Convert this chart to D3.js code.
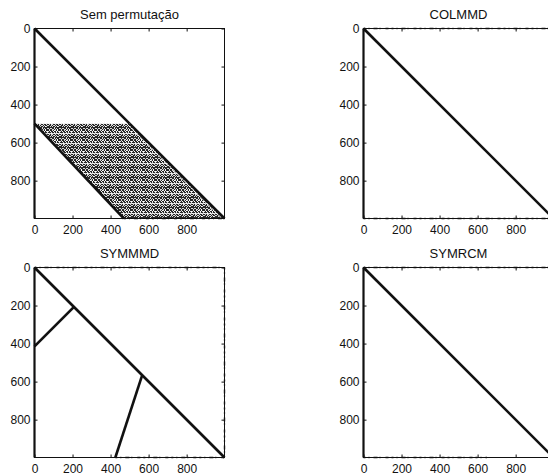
<!DOCTYPE html>
<html>
<head>
<meta charset="utf-8">
<script src="https://cdn.jsdelivr.net/npm/d3@7"></script>
<style>
  body { margin: 0; background: #fff; }
  text { font-family: "Liberation Sans", Arial, sans-serif; fill: #111; }
</style>
</head>
<body>
<script>
// matrix size (axis limit) and ticks
const N = 999;
const ticks = [0, 200, 400, 600, 800];
const titles = ['Sem permutação', 'COLMMD', 'SYMMMD', 'SYMRCM'];

// runs of nonzeros, [col0, row0, col1, row1]
const semRuns = [[0, 0, 500, 500], [500, 500, 999, 999], [0, 500, 470, 999]];
const colmmdRuns = [[0, 0, 999, 999]];
const symmmdRuns = [[0, 0, 999, 999], [0, 415, 205, 210], [425, 999, 565, 570]];
const symrcmRuns = [[0, 0, 999, 999]];

// dense band of the unpermuted matrix, [col, row]
const semBand = [[0, 500], [500, 500], [999, 999], [470, 999]];

// sparse nonzeros along the border rows / cols, [col0, row0, col1, row1]
const semEdges = [[0, 0, 0, 999], [470, 999, 999, 999]];
const colmmdEdges = [[0, 0, 0, 999], [0, 0, 999, 0], [0, 999, 999, 999]];
const symmmdEdges = [[0, 0, 0, 999], [0, 0, 999, 0], [425, 999, 999, 999], [999, 0, 999, 999]];
const symrcmEdges = [[0, 0, 0, 999], [0, 0, 999, 0], [0, 999, 650, 999]];

const runs = [semRuns, colmmdRuns, symmmdRuns, symrcmRuns];
const edges = [semEdges, colmmdEdges, symmmdEdges, symrcmEdges];

// 图形布局
const W = 548, H = 476;
const size = 190;
const lefts = [34.5, 363.5];
const tops = [28.5, 267.5];

const svg = d3.select('body').append('svg')
  .attr('width', W)
  .attr('height', H);

// speckle texture for the dense band
const bits = [
  '101101001011',
  '010110110100',
  '111011010110',
  '000000000000',
  '101001101101',
  '011010010110',
  '110101101001',
  '111111011111',
  '010011010110',
  '101100101011'
];
const pat = svg.append('defs').append('pattern')
  .attr('id', 'speckle')
  .attr('patternUnits', 'userSpaceOnUse')
  .attr('width', bits[0].length)
  .attr('height', bits.length);
pat.append('rect').attr('width', bits[0].length).attr('height', bits.length).attr('fill', '#d8d8d8');
bits.forEach((row, j) => {
  row.split('').forEach((b, i) => {
    if (b === '1') pat.append('rect').attr('x', i).attr('y', j).attr('width', 1).attr('height', 1).attr('fill', '#262626');
    else if ((i + j) % 3 === 0) pat.append('rect').attr('x', i).attr('y', j).attr('width', 1).attr('height', 1).attr('fill', '#fff');
  });
});

titles.forEach((title, k) => {
  const left = lefts[k % 2];
  const top = tops[Math.floor(k / 2)];

  const x = d3.scaleLinear().domain([0, N]).range([left, left + size]);
  const y = d3.scaleLinear().domain([0, N]).range([top, top + size]);

  const g = svg.append('g');

  // 标题
  g.append('text')
    .attr('x', left + size / 2)
    .attr('y', top - 10)
    .attr('text-anchor', 'middle')
    .style('font-size', '13px')
    .text(title);

  if (k === 0) {
    g.append('path')
      .attr('d', d3.line().x(d => x(d[0])).y(d => y(d[1]))(semBand) + 'Z')
      .attr('fill', 'url(#speckle)');
    // thin white seam beside the diagonal
    g.append('line')
      .attr('x1', x(485)).attr('y1', y(500))
      .attr('x2', x(985)).attr('y2', y(999))
      .attr('stroke', '#fff').attr('stroke-width', 0.8);
  }

  // 坐标轴
  g.append('g')
    .attr('transform', `translate(0,${top + size})`)
    .call(d3.axisBottom(x).tickValues(ticks).tickSize(-3).tickPadding(7).tickFormat(d3.format('d')))
    .call(a => a.select('.domain').remove())
    .call(a => a.selectAll('text').style('font-size', '12px').attr('font-family', null));
  g.append('g')
    .attr('transform', `translate(${left},0)`)
    .call(d3.axisLeft(y).tickValues(ticks).tickSize(-3).tickPadding(4).tickFormat(d3.format('d')))
    .call(a => a.select('.domain').remove())
    .call(a => a.selectAll('text').style('font-size', '12px').attr('font-family', null));
  g.append('g')
    .attr('transform', `translate(0,${top})`)
    .call(d3.axisTop(x).tickValues(ticks).tickSize(-3).tickFormat(''))
    .call(a => a.select('.domain').remove());
  g.append('g')
    .attr('transform', `translate(${left + size},0)`)
    .call(d3.axisRight(y).tickValues(ticks).tickSize(-3).tickFormat(''))
    .call(a => a.select('.domain').remove());
  g.selectAll('.tick line').attr('stroke', '#111');

  // box
  g.append('rect')
    .attr('x', left).attr('y', top)
    .attr('width', size).attr('height', size)
    .attr('fill', 'none')
    .attr('stroke', '#111')
    .attr('stroke-width', 1);

  // 边界上的稀疏非零元
  g.selectAll('line.edge')
    .data(edges[k])
    .join('line')
    .attr('class', 'edge')
    .attr('x1', d => x(d[0])).attr('y1', d => y(d[1]))
    .attr('x2', d => x(d[2])).attr('y2', d => y(d[3]))
    .attr('stroke', '#111')
    .attr('stroke-width', d => (d[0] === d[2] && d[0] === 0) ? 2.2 : 1.4)
    .attr('stroke-dasharray', d => (d[0] === d[2] && d[0] === 0) ? null : '2 3 1 4 4 2 1 5 3 3');

  // 非零元
  g.selectAll('line.run')
    .data(runs[k])
    .join('line')
    .attr('class', 'run')
    .attr('x1', d => x(d[0])).attr('y1', d => y(d[1]))
    .attr('x2', d => x(d[2])).attr('y2', d => y(d[3]))
    .attr('stroke', '#111')
    .attr('stroke-width', 2.6);
});
</script>
</body>
</html>
